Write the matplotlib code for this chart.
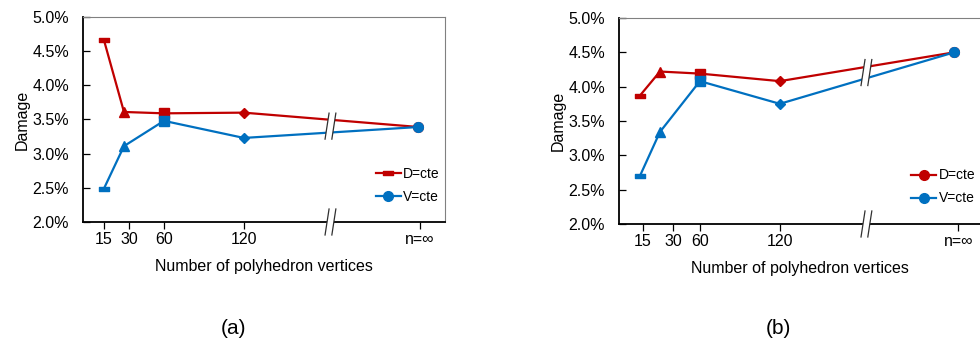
"""
    Damage vs number of polyhedron vertices, two panels (a) and (b)
"""

import numpy as np
import matplotlib
matplotlib.use("Agg")
import matplotlib.pyplot as plt
import matplotlib.transforms as mtransforms
from matplotlib.path import Path
from matplotlib.patches import Polygon
from matplotlib.lines import Line2D

plt.rcParams["font.family"] = ["Liberation Sans", "DejaVu Sans"]

# data
vertices = ["15", "30", "60", "120", "n=\u221e"]
x_pos = [15, 30, 60, 120, 251]  # 15, 30, 60, 120 and the "infinite" position past the break
x_break = 185

damage_a_D = [4.66, 3.61, 3.59, 3.60, 3.39]
damage_a_V = [2.49, 3.11, 3.48, 3.23, 3.39]
damage_b_D = [3.87, 4.22, 4.19, 4.08, 4.50]
damage_b_V = [2.70, 3.34, 4.08, 3.75, 4.50]

RED = "#C00000"
BLUE = "#0070C0"

dash = Path([(-1, -0.38), (1, -0.38), (1, 0.38), (-1, 0.38), (-1, -0.38)],
            [Path.MOVETO, Path.LINETO, Path.LINETO, Path.LINETO, Path.CLOSEPOLY])
point_markers = [dash, "^", "s", "D", "o"]
marker_sizes = [6.5, 7.5, 6.5, 5.5, 7]

fig = plt.figure(figsize=(9.8, 3.43), dpi=100)


def draw_break(ax, x, y, h=26):
    trans = fig.dpi_scale_trans + mtransforms.ScaledTranslation(x, y, ax.transData)
    hh = h / 2 * 0.01
    s = 2.0 * 0.01
    g = 3.4 * 0.01
    ax.add_patch(Polygon([(-g - s, -hh), (g - s, -hh), (g + s, hh), (-g + s, hh)],
                         closed=True, facecolor="white", edgecolor="none",
                         transform=trans, zorder=6, clip_on=False))
    for off in (-g, g):
        ax.add_line(Line2D([off - s, off + s], [-hh, hh], color="#303030", lw=0.9,
                           transform=trans, zorder=7, clip_on=False))


def draw_panel(rect, d_vals, v_vals, xticks, d_legend_marker, tag, tag_x):
    ax = fig.add_axes(rect)
    for vals, color in ((d_vals, RED), (v_vals, BLUE)):
        ax.plot(x_pos, vals, color=color, lw=1.6, zorder=3)
        for xp, v, m, ms in zip(x_pos, vals, point_markers, marker_sizes):
            ax.plot([xp], [v], marker=m, ms=ms, color=color, mec=color, zorder=4)

    ax.set_xlim(-0.75, 271)
    ax.set_ylim(2.0, 5.0)
    ax.set_yticks(np.arange(2.0, 5.01, 0.5))
    ax.set_yticklabels([f"{t:.1f}%" for t in np.arange(2.0, 5.01, 0.5)])
    ax.set_xticks(xticks)
    ax.set_xticklabels(vertices)

    ax.tick_params(axis="y", direction="in", length=5, width=0.9, pad=10, labelsize=11.5)
    ax.tick_params(axis="x", direction="out", length=5, width=0.9, pad=2.5, labelsize=11.5)
    for side in ("left", "bottom"):
        ax.spines[side].set_linewidth(1.3)
        ax.spines[side].set_color("black")
    for side in ("top", "right"):
        ax.spines[side].set_linewidth(0.8)
        ax.spines[side].set_color("#808080")

    ax.set_ylabel("Damage", fontsize=11.5, labelpad=2)
    ax.set_xlabel("Number of polyhedron vertices", fontsize=11.5, labelpad=8)

    # break marks on the lines and on the axis
    y_d = np.interp(x_break, x_pos, d_vals)
    y_v = np.interp(x_break, x_pos, v_vals)
    draw_break(ax, x_break, (y_d + y_v) / 2)
    draw_break(ax, x_break, 2.0)

    handles = [
        Line2D([], [], color=RED, lw=1.6, marker=d_legend_marker, ms=7 if d_legend_marker == "o" else 6.5),
        Line2D([], [], color=BLUE, lw=1.6, marker="o", ms=7),
    ]
    ax.legend(handles, ["D=cte", "V=cte"], loc="center left", bbox_to_anchor=(0.808, 0.18),
              frameon=False, fontsize=10, handlelength=1.8, handletextpad=0.2,
              labelspacing=0.65, borderpad=0, borderaxespad=0)

    fig.text(tag_x, 0.042, tag, ha="center", va="center", fontsize=15)
    return ax


draw_panel([0.0847, 0.3528, 0.3694, 0.5977], damage_a_D, damage_a_V,
           [15, 33.75, 60, 120, 252], dash, "(a)", 0.238)
draw_panel([0.6316, 0.347, 0.3694, 0.6006], damage_b_D, damage_b_V,
           [17.25, 39.75, 60, 120, 254], "o", "(b)", 0.794)

plt.savefig("out.png", dpi=100)
